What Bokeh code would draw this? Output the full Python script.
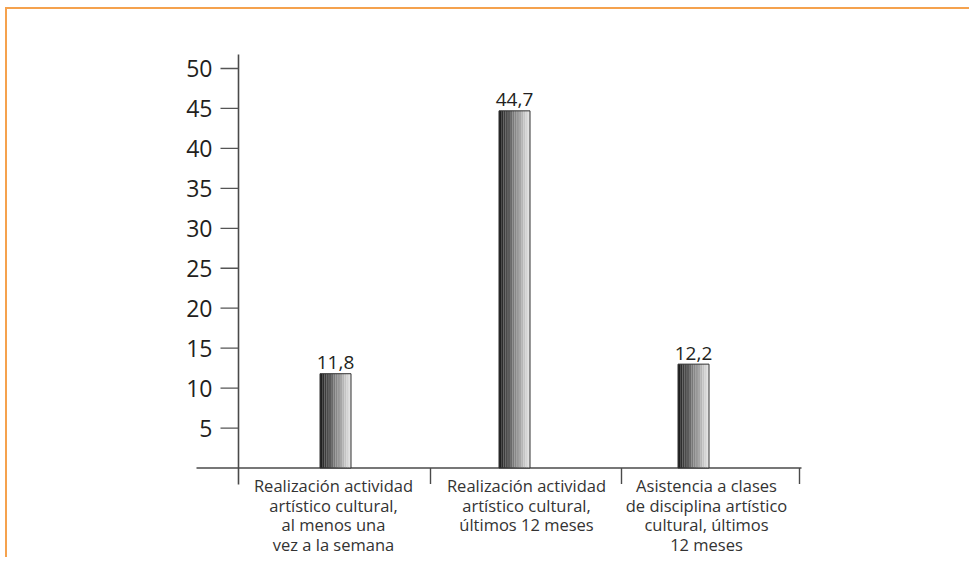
import numpy as np
from bokeh.plotting import figure
from bokeh.models import Range1d
from bokeh.core.properties import value
from bokeh.embed import file_html
from bokeh.resources import INLINE

# ---- data ----
categories = [
    ["Realización actividad", "artístico cultural,", "al menos una", "vez a la semana"],
    ["Realización actividad", "artístico cultural,", "últimos 12 meses"],
    ["Asistencia a clases", "de disciplina artístico", "cultural, últimos", "12 meses"],
]
values = [11.8, 44.7, 12.2]          # printed values
bar_heights = [11.8, 44.7, 13.0]     # heights as drawn in the picture
value_labels = ["11,8", "44,7", "12,2"]
y_ticks = [5, 10, 15, 20, 25, 30, 35, 40, 45, 50]
y_tick_labels = [str(t) for t in y_ticks]

# ---- geometry (canvas px -> data) ----
W, H = 969, 557
PX_X = 179.0   # px per category unit
X0 = 335.0     # canvas x of first bar
PX_Y = 7.99    # px per value unit
Y0 = 467.5     # canvas y of value 0

def xd(px):
    return (px - X0) / PX_X

def yd(py):
    return (Y0 - py) / PX_Y

p = figure(width=W, height=H, output_backend="svg", toolbar_location=None,
           x_axis_type=None, y_axis_type=None, min_border=0,
           x_range=Range1d(xd(0), xd(W)), y_range=Range1d(yd(H), yd(0)))
p.outline_line_color = None
p.grid.visible = False
p.background_fill_color = "white"
p.border_fill_color = "white"

FONT = value("Open Sans")
TXT = "#231F20"
ORANGE = "#F5A24E"

# orange frame (top and left)
p.segment(x0=[xd(4.5), xd(5.5)], y0=[yd(7.5), yd(7.5)], x1=[xd(W), xd(5.5)], y1=[yd(7.5), yd(H)],
          line_color=ORANGE, line_width=2)

# y axis
ax_x = xd(238)
p.segment(x0=[ax_x], y0=[yd(484)], x1=[ax_x], y1=[yd(54)], line_color="#4A4A4A", line_width=1.6)
# y ticks
nt = len(y_ticks)
p.segment(x0=[xd(220)] * nt, y0=y_ticks, x1=[ax_x] * nt, y1=y_ticks,
          line_color="#555555", line_width=1.3)
p.text(x=[xd(212)] * nt, y=y_ticks, text=y_tick_labels, text_font=FONT,
       text_font_size="23px", text_color=TXT, text_align="right", text_baseline="middle")

# x axis
p.segment(x0=[xd(196)], y0=[0], x1=[xd(801)], y1=[0], line_color="#4A4A4A", line_width=1.6)
seps = [xd(430), xd(621), xd(799)]
p.segment(x0=seps, y0=[0] * 3, x1=seps, y1=[yd(483.5)] * 3, line_color="#4A4A4A", line_width=1.4)

# bars with a left-to-right dark-to-light gradient (stripes)
xs = np.arange(len(bar_heights), dtype=float)
bw = 31.0 / PX_X
n = 14
shades = np.linspace(0x20, 0xE2, n).astype(int)
for k in range(n):
    col = "#%02x%02x%02x" % (shades[k], shades[k], shades[k])
    p.vbar(x=xs - bw / 2 + (k + 0.5) * bw / n, width=bw / n * 1.02, top=bar_heights, bottom=0,
           fill_color=col, line_color=None)
p.vbar(x=xs, width=bw, top=bar_heights, bottom=0, fill_color=None, line_color="#333333", line_width=1)

# value labels
p.text(x=xs, y=np.array(bar_heights) + 11.0 / PX_Y, text=value_labels, text_font=FONT,
       text_font_size="19px", text_color=TXT, text_align="center", text_baseline="alphabetic")

# category labels
label_centers = [xd(333), xd(526), xd(706)]
line_y = [485, 504.5, 524, 543.5]
for cx, lines in zip(label_centers, categories):
    p.text(x=[cx] * len(lines), y=[yd(line_y[i]) for i in range(len(lines))], text=lines,
           text_font=FONT, text_font_size="16.5px", text_color="#333333",
           text_align="center", text_baseline="middle")

open("out.html", "w").write(file_html(p, INLINE))
